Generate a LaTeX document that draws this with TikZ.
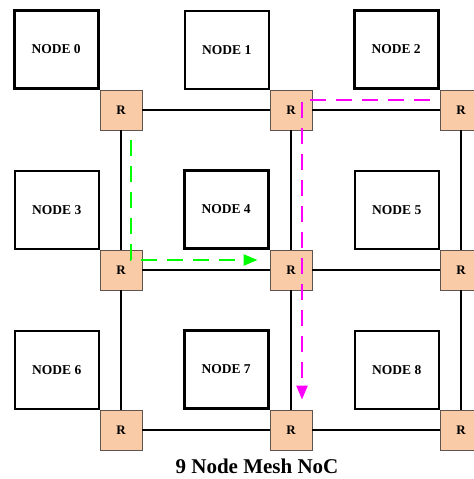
\documentclass[tikz,border=0pt]{standalone}
\usepackage{fontspec}
\setmainfont{Liberation Serif}
\usepackage{xcolor}
\usetikzlibrary{arrows.meta,positioning}

\definecolor{routerfill}{RGB}{249,203,167}
\definecolor{routeredge}{RGB}{95,85,80}
\definecolor{pathgreen}{RGB}{0,255,0}
\definecolor{pathmagenta}{RGB}{255,0,255}

\begin{document}
\begin{tikzpicture}[x=1bp, y=-1bp,
    pe/.style={draw, line width=1.6bp, minimum width=84bp, minimum height=78bp, inner sep=0pt,
      font=\fontsize{13.5bp}{15bp}\selectfont\bfseries},
    pe thick/.style={pe, line width=3bp},
    router/.style={draw=routeredge, fill=routerfill, line width=0.8bp, minimum width=42bp,
      minimum height=40bp, inner sep=0pt, font=\fontsize{13bp}{14bp}\selectfont\bfseries},
    link/.style={line width=1.8bp},
    route/.style={line width=2.2bp, dash pattern=on 16bp off 10bp,
      -{Triangle[length=14bp,width=11bp]}}]
    \useasboundingbox (0,0) rectangle (474,479);

    \coordinate (C0) at (121, 110);
    \coordinate (C1) at (291, 110);
    \coordinate (C2) at (461, 110);
    \coordinate (C3) at (121, 270);
    \coordinate (C4) at (291, 270);
    \coordinate (C5) at (461, 270);
    \coordinate (C6) at (121, 430);
    \coordinate (C7) at (291, 430);
    \coordinate (C8) at (461, 430);

    % routers
    \node [router] (R0) at (C0) {R};
    \node [router] (R1) at (C1) {R};
    \node [router] (R2) at (C2) {R};
    \node [router] (R3) at (C3) {R};
    \node [router] (R4) at (C4) {R};
    \node [router] (R5) at (C5) {R};
    \node [router] (R6) at (C6) {R};
    \node [router] (R7) at (C7) {R};
    \node [router] (R8) at (C8) {R};

    % processing elements, one on the top left of each router
    \node [pe thick, above left=0pt of R0.north west] (N0) {NODE 0};
    \node [pe, above left=0pt of R1.north west] (N1) {NODE 1};
    \node [pe thick, above left=0pt of R2.north west] (N2) {NODE 2};
    \node [pe, above left=0pt of R3.north west] (N3) {NODE 3};
    \node [pe thick, above left=0pt of R4.north west] (N4) {NODE 4};
    \node [pe, above left=0pt of R5.north west] (N5) {NODE 5};
    \node [pe, above left=0pt of R6.north west] (N6) {NODE 6};
    \node [pe thick, above left=0pt of R7.north west] (N7) {NODE 7};
    \node [pe, above left=0pt of R8.north west] (N8) {NODE 8};

    % mesh links
    \draw [link] (R0) -- (R1);
    \draw [link] (R1) -- (R2);
    \draw [link] (R3) -- (R4);
    \draw [link] (R4) -- (R5);
    \draw [link] (R6) -- (R7);
    \draw [link] (R7) -- (R8);
    \draw [link] (R0) -- (R3);
    \draw [link] (R3) -- (R6);
    \draw [link] (R1) -- (R4);
    \draw [link] (R4) -- (R7);
    \draw [link] (R2) -- (R5);
    \draw [link] (R5) -- (R8);

    % XY routes
    \coordinate (G0) at ([shift={(10,30)}]R0.center);
    \coordinate (G1) at ([shift={(-12,-10)}]R4.west);
    \draw [route, pathgreen] (G0) |- (G1);

    \coordinate (M0) at ([shift={(-10,-10)}]R2.west);
    \coordinate (M1) at ([shift={(11,-10)}]R7.north);
    \draw [route, pathmagenta] (M0) -| (M1);

    \node (title) at (257, 466) {\fontsize{21bp}{23bp}\selectfont\bfseries 9 Node Mesh NoC};
\end{tikzpicture}
\end{document}
